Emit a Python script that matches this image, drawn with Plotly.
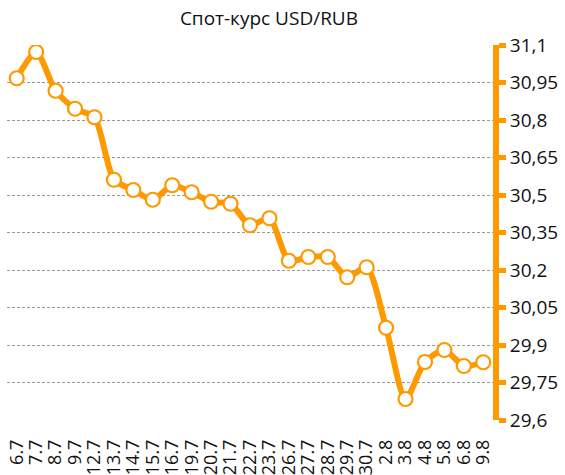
import plotly.graph_objects as go

# Trading dates (day.month) and USD/RUB spot rate
dates = ["6.7", "7.7", "8.7", "9.7", "12.7", "13.7", "14.7", "15.7", "16.7",
         "19.7", "20.7", "21.7", "22.7", "23.7", "26.7", "27.7", "28.7", "29.7",
         "30.7", "2.8", "3.8", "4.8", "5.8", "6.8", "9.8"]
rate = [30.967, 31.072, 30.917, 30.845, 30.811, 30.561, 30.52, 30.481, 30.539,
        30.511, 30.473, 30.465, 30.379, 30.407, 30.237, 30.252, 30.252, 30.171,
        30.211, 29.969, 29.684, 29.832, 29.88, 29.816, 29.831]

# Right axis ticks
y_ticks = [29.6, 29.75, 29.9, 30.05, 30.2, 30.35, 30.5, 30.65, 30.8, 30.95, 31.1]
y_tick_text = ["29,6", "29,75", "29,9", "30,05", "30,2", "30,35", "30,5",
               "30,65", "30,8", "30,95", "31,1"]

orange = "#FF9900"
font_family = "Open Sans"

fig = go.Figure()
fig.add_trace(go.Scatter(
    x=dates, y=rate,
    mode="lines+markers",
    line=dict(color=orange, width=6, shape="spline", smoothing=0.7),
    marker=dict(size=14, color="white", line=dict(color=orange, width=2.2)),
    hoverinfo="x+y",
))

fig.update_layout(
    width=565, height=475,
    margin=dict(l=7, r=72, t=45, b=55),
    paper_bgcolor="white", plot_bgcolor="white",
    showlegend=False,
    font=dict(family=font_family, color="#111111"),
    title=dict(text="Спот-курс USD/RUB", x=0.476, xanchor="center",
               y=1 - 18 / 475, yanchor="middle",
               font=dict(size=19, family=font_family, color="#111111")),
)

fig.update_xaxes(
    type="category", range=[-0.5, len(dates) - 0.5],
    tickmode="array", tickvals=dates, ticktext=dates,
    showgrid=False, showline=False, zeroline=False, ticks="",
    tickangle=-90, ticklabelstandoff=15,
    tickfont=dict(size=18, family=font_family, color="#111111"),
    automargin=False,
)

fig.update_yaxes(
    side="right", range=[29.6, 31.1],
    tickvals=y_ticks, ticktext=y_tick_text,
    tickfont=dict(size=19, family=font_family, color="#111111"),
    showline=True, linecolor=orange, linewidth=6,
    ticks="outside", ticklen=7, tickwidth=5, tickcolor=orange,
    showgrid=True, gridcolor="#9a9a9a", gridwidth=1, griddash="3px,2px",
    zeroline=False, automargin=False,
)

fig.write_html("out.html")
